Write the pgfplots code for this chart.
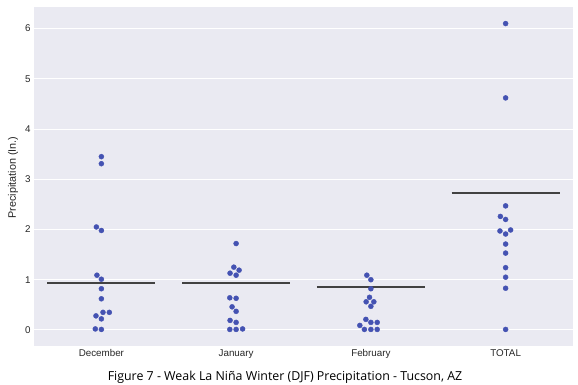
\documentclass[border=0pt]{standalone}
\usepackage{fontspec}
\setmainfont{Liberation Sans}
\newfontfamily\titlefont{Open Sans}
\usepackage{pgfplots}
\pgfplotsset{compat=1.18}
\definecolor{bg}{HTML}{EAEAF2}
\definecolor{dotc}{RGB}{68,82,178}
\definecolor{med}{HTML}{424242}
\definecolor{txt}{HTML}{262626}

\pgfplotstableread{
x y
0 3.45
0 3.31
-0.037 2.05
0 1.98
-0.033 1.09
0 1.01
0 0.82
0 0.62
0.012 0.35
0.059 0.35
-0.040 0.28
0 0.22
-0.045 0.02
0 0.01
}\dec
\pgfplotstableread{
x y
1 1.72
0.983 1.25
1.022 1.19
0.955 1.13
1 1.09
0.953 0.64
1 0.63
0.970 0.46
1 0.37
0.955 0.19
1 0.15
0.953 0.01
1 0.01
1.048 0.02
}\jan
\pgfplotstableread{
x y
1.970 1.09
2 1.00
2 0.82
1.990 0.65
1.965 0.56
2.022 0.56
2 0.47
1.963 0.21
2 0.15
2.047 0.15
1.918 0.09
1.952 0.01
2 0.01
2.047 0.01
}\feb
\pgfplotstableread{
x y
3 6.10
3 4.62
3 2.47
2.961 2.26
3 2.20
2.958 1.97
3.037 1.99
3 1.91
3 1.71
3 1.53
3 1.24
3 1.05
3 0.83
3 0.01
}\tot

\begin{document}
\begin{tikzpicture}
\path[use as bounding box] (-34pt,-38pt) rectangle (544pt,346pt);
\begin{axis}[
  at={(0pt,0pt)}, anchor=south west,
  scale only axis, width=539pt, height=339pt,
  xmin=-0.5, xmax=3.5, ymin=-0.32, ymax=6.43,
  axis background/.style={fill=bg},
  axis line style={draw=none},
  ymajorgrids, major grid style={white, line width=1pt},
  xtick={0,1,2,3}, xticklabels={December,January,February,TOTAL},
  ytick={0,1,2,3,4,5,6},
  tick style={draw=none},
  ticklabel style={font=\fontsize{9.8}{11}\selectfont, text=txt},
  /pgf/number format/assume math mode=true,
  ylabel={Precipitation (In.)},
  ylabel style={font=\fontsize{10.8}{12}\selectfont, text=txt, xshift=-1pt},
  clip=false,
]
\addplot[only marks, mark=*, mark size=2.5pt, mark options={fill=dotc, draw=dotc}] table[x=x,y=y] {\dec};
\addplot[only marks, mark=*, mark size=2.5pt, mark options={fill=dotc, draw=dotc}] table[x=x,y=y] {\jan};
\addplot[only marks, mark=*, mark size=2.5pt, mark options={fill=dotc, draw=dotc}] table[x=x,y=y] {\feb};
\addplot[only marks, mark=*, mark size=2.5pt, mark options={fill=dotc, draw=dotc}] table[x=x,y=y] {\tot};
\addplot[med, line width=2pt] coordinates {(-0.4,0.94) (0.4,0.94)};
\addplot[med, line width=2pt] coordinates {(0.6,0.94) (1.4,0.94)};
\addplot[med, line width=2pt] coordinates {(1.6,0.86) (2.4,0.86)};
\addplot[med, line width=2pt] coordinates {(2.6,2.73) (3.4,2.73)};
\end{axis}
\node[font=\titlefont\fontsize{12.4}{15}\selectfont, text=black] at (251pt,-31pt) {Figure 7 - Weak La Niña Winter (DJF) Precipitation - Tucson, AZ};
\end{tikzpicture}
\end{document}
